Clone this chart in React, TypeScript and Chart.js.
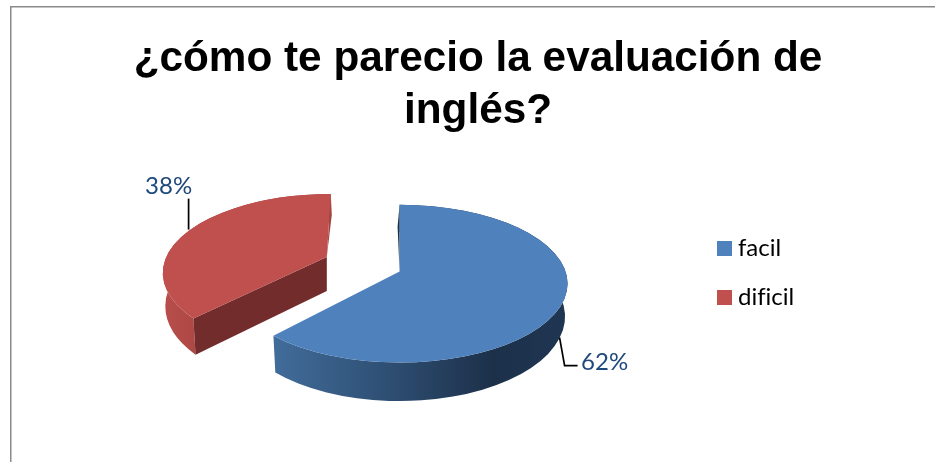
import React, { useEffect, useRef } from "react";
import { Chart, registerables } from "chart.js";

Chart.register(...registerables);

const categories = ["facil", "dificil"];
const percentValues = [62, 38];
const titleLines = ["¿cómo te parecio la evaluación de", "inglés?"];

const topColors = ["#4f81bd", "#bf504e"];
const cutColors = ["#1c3049", "#722c2b"];
const sliverColors = ["#1c3049", "#a04542"];
const LABEL_COLOR = "#1f497d";

const RADIUS = 168;
const TILT = 0.47;
const EXPLODE_TILT = 0.39;
const BASE_SCALE_X = 0.985;
const BASE_SCALE_Y = 1.07;
const DEPTH = 33;
const CUT_DEPTH = 34;
const CENTER_SHIFT_X = -25.5;
const EXPLODE = [0, 74];
const SKEW_DEG = [8, 17];
const APEX = [[0, -12], [-4, -16]];
const SLIVER = [[-2, 22], [1, 21]];
const LABEL_POS = [[205, 79], [-231, -97]];
const LEADERS = [
  [[160, 54], [165, 82], [178, 82]],
  [[-211, -85], [-211, -54]],
];

const pie3d = {
  id: "pie3d",
  beforeDraw(chart: any) {
    const { ctx, width, height } = chart;
    ctx.save();
    ctx.fillStyle = "#ffffff";
    ctx.fillRect(0, 0, width, height);
    ctx.fillStyle = "#8a8a8a";
    ctx.fillRect(10, 6, width - 10, 1.5);
    ctx.fillRect(10, 6, 1.5, height - 6);
    ctx.restore();
    (ctx as any).textRendering = "optimizeSpeed";
  },
  afterLayout(chart: any) {
    const legend = chart.legend;
    const h = legend.height;
    legend.left = 698;
    legend.right = legend.left + legend.width;
    legend.top = 211.5;
    legend.bottom = legend.top + h;
  },
  beforeDatasetsDraw(chart: any) {
    const { ctx } = chart;
    const meta = chart.getDatasetMeta(0);
    meta.data.forEach((arc: any, i: number) => {
      const R = arc.outerRadius;
      const ry = R * TILT;
      const mid = (arc.startAngle + arc.endAngle) / 2;
      const cx = arc.x + CENTER_SHIFT_X + Math.cos(mid) * EXPLODE[i];
      const cy = arc.y + Math.sin(mid) * EXPLODE[i] * EXPLODE_TILT;
      const skew = (a: number) => a - ((SKEW_DEG[i] * Math.PI) / 180) * Math.cos(a);
      const s = skew(arc.startAngle);
      const e = skew(arc.endAngle);
      const bx = cx;
      const by = cy + DEPTH;
      const bR = R * BASE_SCALE_X;
      const bRy = ry * BASE_SCALE_Y;
      const apexX = cx + APEX[i][0];
      const apexY = cy + APEX[i][1];
      const pTop = (a: number) => [cx + R * Math.cos(a), cy + ry * Math.sin(a)];
      const pBot = (a: number) => [bx + bR * Math.cos(a), by + bRy * Math.sin(a)];

      // outer wall
      ctx.save();
      ctx.beginPath();
      ctx.ellipse(cx, cy, R, ry, 0, s, e);
      ctx.ellipse(bx, by, bR, bRy, 0, e, s, true);
      ctx.closePath();
      const grad = ctx.createLinearGradient(cx - R, 0, cx + R, 0);
      if (i === 0) {
        grad.addColorStop(0, "#4a78a9");
        grad.addColorStop(0.08, "#44709f");
        grad.addColorStop(0.45, "#2f5075");
        grad.addColorStop(0.78, "#1c3049");
        grad.addColorStop(1, "#1f3653");
      } else {
        grad.addColorStop(0, "#b84e4b");
        grad.addColorStop(0.2, "#a24240");
        grad.addColorStop(1, "#8c3836");
      }
      ctx.fillStyle = grad;
      ctx.fill();

      // visible cut face
      if (Math.cos(arc.startAngle) < -0.01) {
        const t = pTop(s);
        const b = pBot(s);
        ctx.beginPath();
        ctx.moveTo(t[0], t[1]);
        ctx.lineTo(apexX, apexY);
        ctx.lineTo(apexX, apexY + CUT_DEPTH);
        ctx.lineTo(b[0], b[1]);
        ctx.closePath();
        ctx.fillStyle = cutColors[i];
        ctx.fill();
      }

      // thin sliver of the far cut face
      const edgeAngle = i === 0 ? s : e;
      const edge = pTop(edgeAngle);
      ctx.beginPath();
      ctx.moveTo(edge[0], edge[1]);
      ctx.lineTo(edge[0] + SLIVER[i][0], edge[1] + SLIVER[i][1]);
      ctx.lineTo(apexX, apexY);
      ctx.closePath();
      ctx.fillStyle = sliverColors[i];
      ctx.fill();

      // top face
      ctx.beginPath();
      ctx.moveTo(apexX, apexY);
      ctx.ellipse(cx, cy, R, ry, 0, s, e);
      ctx.closePath();
      ctx.fillStyle = topColors[i];
      ctx.fill();

      // leader lines and labels
      const refX = arc.x + CENTER_SHIFT_X;
      const refY = arc.y;
      ctx.beginPath();
      LEADERS[i].forEach((p, k) => {
        if (k === 0) ctx.moveTo(refX + p[0], refY + p[1]);
        else ctx.lineTo(refX + p[0], refY + p[1]);
      });
      ctx.strokeStyle = "#000000";
      ctx.lineWidth = 1.7;
      ctx.stroke();

      ctx.fillStyle = LABEL_COLOR;
      ctx.font = "24px Lato";
      ctx.textAlign = "center";
      ctx.textBaseline = "middle";
      ctx.fillText(`${percentValues[i]}%`, refX + LABEL_POS[i][0], refY + LABEL_POS[i][1]);
      ctx.restore();
    });
    return false;
  },
};

export default function App() {
  const ref = useRef<HTMLCanvasElement | null>(null);
  useEffect(() => {
    if (!ref.current) return;
    const chart = new Chart(ref.current, {
      type: "pie",
      data: {
        labels: categories,
        datasets: [
          {
            data: percentValues,
            backgroundColor: topColors,
            borderWidth: 0,
          },
        ],
      },
      options: {
        responsive: false,
        animation: false,
        radius: RADIUS,
        layout: { padding: { left: 21, right: 0, top: 0, bottom: 32 } },
        plugins: {
          title: {
            display: true,
            text: titleLines,
            color: "#000000",
            font: { family: "'Liberation Sans'", size: 42.3, weight: "bold", lineHeight: 1.22 },
            padding: { top: 34, bottom: 0 },
          },
          legend: {
            display: true,
            position: "right",
            align: "start",
            labels: {
              color: "#000000",
              font: { family: "Lato", size: 24 },
              usePointStyle: true,
              pointStyle: "rect",
              boxWidth: 3,
              boxHeight: 15,
              padding: 25,
            },
          },
          tooltip: { enabled: false },
        },
      },
      plugins: [pie3d],
    } as any);
    return () => chart.destroy();
  }, []);
  return (
    <div style={{ position: "absolute", left: 0, top: 0, width: 935, height: 462 }}>
      <canvas ref={ref} width={935} height={462} style={{ display: "block" }} />
    </div>
  );
}
